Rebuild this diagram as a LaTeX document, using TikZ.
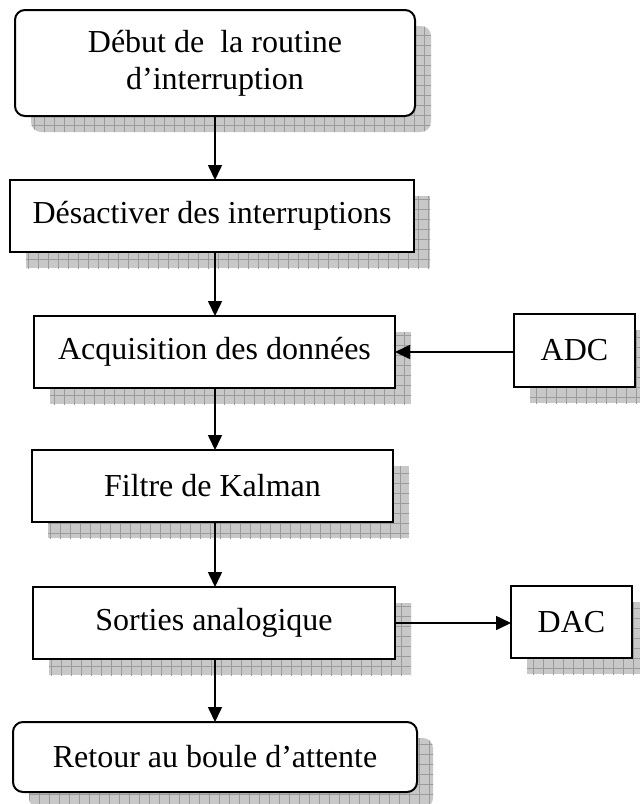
\documentclass[tikz,border=0pt]{standalone}
\usepackage{fontspec}
\setmainfont{Liberation Serif}
\usetikzlibrary{arrows.meta,shadows}
\definecolor{shadowfill}{RGB}{200,200,200}
\definecolor{shadowline}{RGB}{155,155,155}
\tikzset{
  gridshadow/.style={drop shadow={shadow xshift=16pt, shadow yshift=-16pt, opacity=1, fill=shadowfill,
     path picture={\draw[shadowline, line width=0.6pt] ([xshift=-20pt,yshift=-20pt]path picture bounding box.south west) grid[step=10pt] ([xshift=20pt,yshift=20pt]path picture bounding box.north east);}}},
  box/.style={draw=black, line width=2pt, fill=white, inner sep=0pt, outer sep=0pt, align=center,
     font=\fontsize{32}{37}\selectfont, gridshadow},
  rbox/.style={box, rounded corners=10pt},
  arr/.style={line width=1.6pt, -{Triangle[length=15pt,width=14pt]}}
}
\begin{document}
\begin{tikzpicture}[x=1pt,y=-1pt]
\useasboundingbox (0,0) rectangle (640,804);
\node[rbox, minimum width=400pt, minimum height=106pt] (start) at (215,63) {Début de\ \ la routine\\d’interruption};
\node[box, minimum width=404pt, minimum height=72pt] (des) at (212,216) {Désactiver des interruptions};
\node[box, minimum width=361pt, minimum height=72pt] (acq) at (214.5,352) {Acquisition des données};
\node[box, minimum width=361pt, minimum height=72pt] (fil) at (212.5,486) {Filtre de Kalman};
\node[box, minimum width=362pt, minimum height=72pt] (sor) at (214,623) {Sorties analogique};
\node[rbox, minimum width=404pt, minimum height=70pt] (ret) at (215,757) {Retour au boule d’attente};
\node[box, minimum width=121pt, minimum height=73pt] (adc) at (574.5,350.5) {ADC};
\node[box, minimum width=121pt, minimum height=72pt] (dac) at (571.5,622) {DAC};
\coordinate (ax) at (215,0);
\draw[arr] (start.south -| ax) -- (des.north -| ax);
\draw[arr] (des.south -| ax) -- (acq.north -| ax);
\draw[arr] (acq.south -| ax) -- (fil.north -| ax);
\draw[arr] (fil.south -| ax) -- (sor.north -| ax);
\draw[arr] (sor.south -| ax) -- (ret.north -| ax);
\draw[arr] (adc.west |- acq.east) -- (acq.east);
\draw[arr] (sor.east) -- (sor.east -| dac.west);
\end{tikzpicture}
\end{document}
